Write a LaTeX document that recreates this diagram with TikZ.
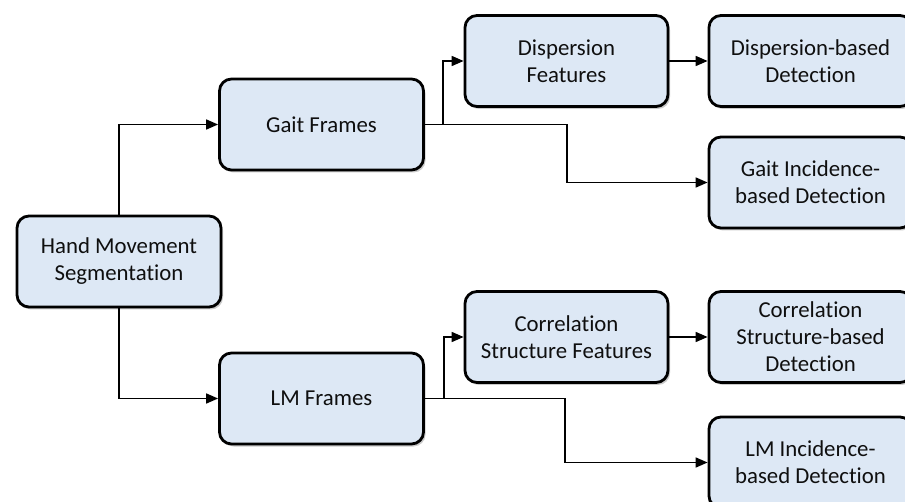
\documentclass[tikz,border=0pt]{standalone}
\usepackage{fontspec}
\setmainfont{Carlito}[Ligatures=NoCommon]
\usetikzlibrary{arrows.meta,shadows}
\definecolor{boxfill}{RGB}{221,232,245}
\definecolor{txt}{RGB}{15,15,15}
\tikzset{
  box/.style={draw=black, line width=2.8pt, fill=boxfill, rounded corners=12pt,
    minimum width=204pt, minimum height=91pt, align=center, text=txt,
    font=\fontsize{22.8}{27}\selectfont, inner sep=2pt,
    drop shadow={shadow xshift=2pt, shadow yshift=-2.5pt, opacity=0.35, fill=black!60}},
  arr/.style={line width=1.7pt, -{Triangle[length=12pt,width=10pt]}},
}
\begin{document}
\begin{tikzpicture}[x=1pt,y=-1pt]
\useasboundingbox (0,0) rectangle (905,502);
\clip (0,0) rectangle (905,502);
\node[box] (hms) at (119,261.5) {Hand Movement\\Segmentation};
\node[box] (gait) at (321.5,124.5) {Gait Frames};
\node[box] (lm) at (321.5,398.5) {LM Frames};
\node[box, minimum width=203pt] (dispf) at (566.5,61) {Dispersion\\Features};
\node[box, minimum width=203pt] (dispd) at (810.5,61) {Dispersion-based\\Detection};
\node[box, minimum width=203pt] (gincd) at (810.5,182.5) {Gait Incidence-\\based Detection};
\node[box, minimum width=203pt] (corrf) at (566.5,337) {Correlation\\Structure Features};
\node[box, minimum width=203pt] (corrd) at (810.5,337) {Correlation\\Structure-based\\Detection};
\node[box, minimum width=203pt] (lmincd) at (810.5,462.5) {LM Incidence-\\based Detection};
\coordinate (gb) at (443,124.5);
\coordinate (gc) at (567,124.5);
\coordinate (lb) at (444,398.5);
\coordinate (lc) at (565,398.5);
\draw[arr] (hms.north) |- (gait.west);
\draw[arr] (hms.south) |- (lm.west);
\draw[arr] (gait.east) -- (gc) |- (gincd.west);
\draw[arr] (gb) |- (dispf.west);
\draw[arr] (dispf.east) -- (dispd.west);
\draw[arr] (lm.east) -- (lc) |- (lmincd.west);
\draw[arr] (lb) |- (corrf.west);
\draw[arr] (corrf.east) -- (corrd.west);
\end{tikzpicture}
\end{document}
